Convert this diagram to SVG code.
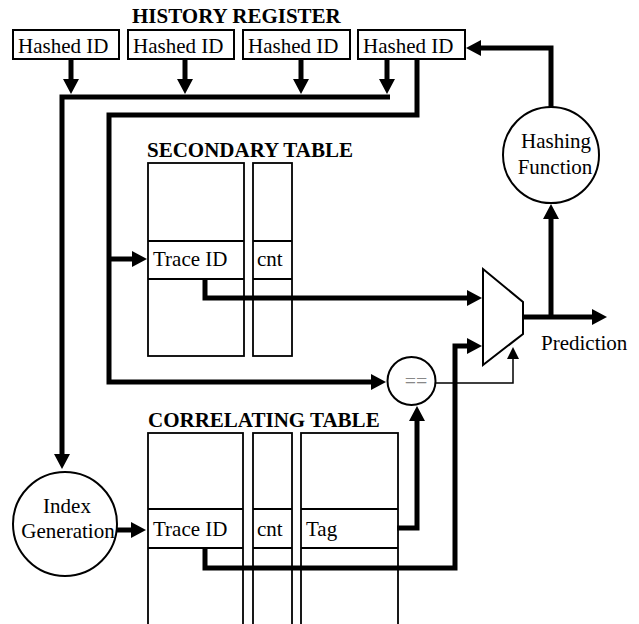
<svg xmlns="http://www.w3.org/2000/svg" width="639" height="624" viewBox="0 0 639 624">
<style>
text{font-family:"Liberation Serif","Times New Roman",serif;font-size:21px;fill:#000}
.b{font-weight:bold}
.box{fill:#fff;stroke:#000;stroke-width:2}
.tbl{fill:none;stroke:#000;stroke-width:1.8}
.thick{fill:none;stroke:#000;stroke-width:5;stroke-linejoin:miter}
.thin{fill:none;stroke:#000;stroke-width:1.5}
.mid{text-anchor:middle}
</style>
<defs>
<marker id="ah" markerUnits="userSpaceOnUse" markerWidth="17" markerHeight="18" refX="1" refY="8" orient="auto" overflow="visible">
<path d="M0,0 L15,8 L0,16 z" fill="#000"/>
</marker>
<marker id="ahs" markerUnits="userSpaceOnUse" markerWidth="13" markerHeight="12" refX="1" refY="6" orient="auto" overflow="visible">
<path d="M0,0 L12,6 L0,12 z" fill="#000"/>
</marker>
</defs>

<text class="b" x="132" y="23">HISTORY REGISTER</text>
<g id="hid1"><rect class="box" x="13" y="30" width="106" height="29"/><text x="18" y="53">Hashed ID</text></g>
<g id="hid2"><rect class="box" x="128" y="30" width="106" height="29"/><text x="133" y="53">Hashed ID</text></g>
<g id="hid3"><rect class="box" x="243" y="30" width="107" height="29"/><text x="248" y="53">Hashed ID</text></g>
<g id="hid4"><rect class="box" x="358" y="30" width="107" height="29"/><text x="363" y="53">Hashed ID</text></g>

<g id="secondary">
<text class="b" x="147" y="157">SECONDARY TABLE</text>
<rect class="tbl" x="148" y="163" width="96" height="193"/>
<line class="tbl" x1="148" y1="241" x2="244" y2="241"/>
<line class="tbl" x1="148" y1="279" x2="244" y2="279"/>
<rect class="tbl" x="253" y="163" width="39" height="193"/>
<line class="tbl" x1="253" y1="241" x2="292" y2="241"/>
<line class="tbl" x1="253" y1="279" x2="292" y2="279"/>
<text x="153" y="266">Trace ID</text>
<text x="257" y="266">cnt</text>
</g>

<g id="correlating">
<text class="b" x="148" y="427">CORRELATING TABLE</text>
<rect class="tbl" x="148" y="433" width="95" height="200"/>
<line class="tbl" x1="148" y1="509" x2="243" y2="509"/>
<line class="tbl" x1="148" y1="548" x2="243" y2="548"/>
<rect class="tbl" x="253" y="433" width="39" height="200"/>
<line class="tbl" x1="253" y1="509" x2="292" y2="509"/>
<line class="tbl" x1="253" y1="548" x2="292" y2="548"/>
<rect class="tbl" x="301" y="433" width="97" height="200"/>
<line class="tbl" x1="301" y1="509" x2="398" y2="509"/>
<line class="tbl" x1="301" y1="548" x2="398" y2="548"/>
<text x="153" y="536">Trace ID</text>
<text x="257" y="536">cnt</text>
<text x="306" y="536">Tag</text>
</g>

<g id="hashing">
<circle cx="551" cy="155" r="48" fill="#fff" stroke="#000" stroke-width="2"/>
<text class="mid" x="556" y="148">Hashing</text>
<text class="mid" x="555" y="174">Function</text>
</g>

<g id="indexgen">
<circle cx="65" cy="524" r="52" fill="#fff" stroke="#000" stroke-width="2"/>
<text class="mid" x="67" y="513">Index</text>
<text class="mid" x="68" y="538">Generation</text>
</g>

<g id="compare">
<circle cx="411.5" cy="381" r="24" fill="#fff" stroke="#000" stroke-width="2"/>
<text class="mid" x="416" y="388" style="fill:#888;font-size:20px">==</text>
</g>

<g id="mux">
<polygon points="483,269 523,302 523,334 483,365" fill="#fff" stroke="#000" stroke-width="2"/>
</g>

<text x="541" y="350">Prediction</text>

<g id="connectors">
<path class="thick" d="M71,59 V80" marker-end="url(#ah)"/>
<path class="thick" d="M185,59 V80" marker-end="url(#ah)"/>
<path class="thick" d="M301,59 V80" marker-end="url(#ah)"/>
<path class="thick" d="M387,59 V80" marker-end="url(#ah)"/>
<path class="thick" d="M390,97 H62 V455" marker-end="url(#ah)"/>
<path class="thick" d="M417,59 V115 H109 V382 H372" marker-end="url(#ah)"/>
<path class="thick" d="M109,259 H133" marker-end="url(#ah)"/>
<path class="thick" d="M205,279 V298 H468" marker-end="url(#ah)"/>
<path class="thick" d="M117,530 H132" marker-end="url(#ah)"/>
<path class="thick" d="M397,528 H417 V420" marker-end="url(#ah)"/>
<path class="thick" d="M205,548 V568 H455 V346 H468" marker-end="url(#ah)"/>
<path class="thick" d="M523,317 H593" marker-end="url(#ah)"/>
<path class="thick" d="M551,317 V218" marker-end="url(#ah)"/>
<path class="thick" d="M551,107 V48 H480" marker-end="url(#ah)"/>
<path class="thin" d="M435.5,383 H513 V358" marker-end="url(#ahs)"/>
</g>
</svg>
